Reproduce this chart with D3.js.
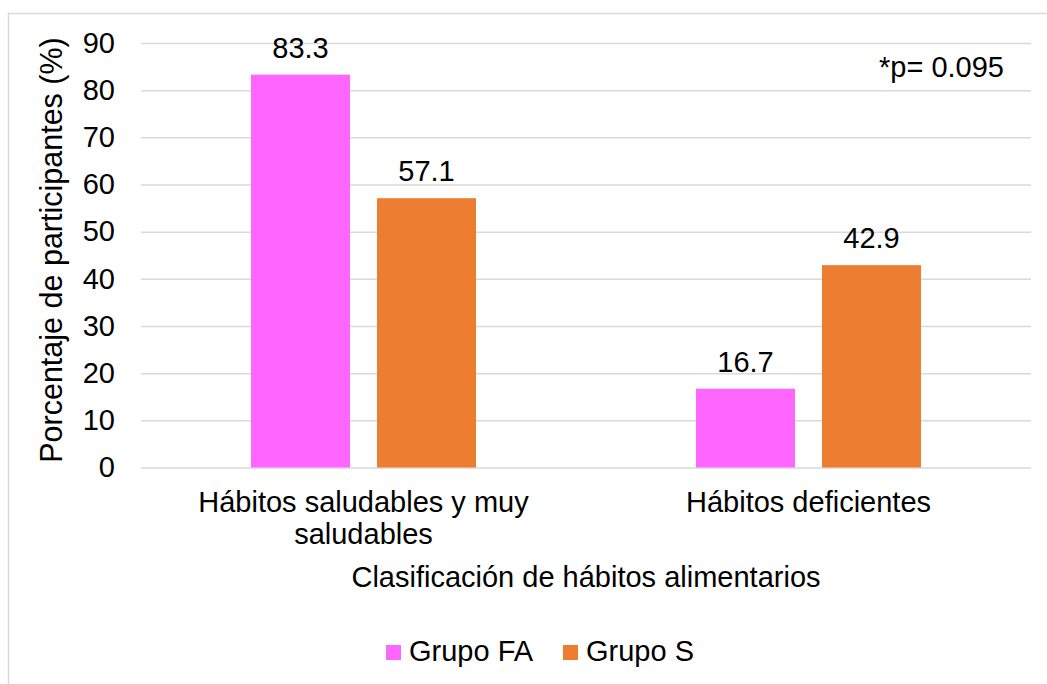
<!DOCTYPE html>
<html>
<head>
<meta charset="utf-8">
<script src="https://cdn.jsdelivr.net/npm/d3@7"></script>
<style>
  html, body { margin: 0; padding: 0; background: #fff; }
  svg { display: block; font-family: "Liberation Sans", Arial, sans-serif; }
</style>
</head>
<body>
<svg id="chart" width="1047" height="684"></svg>
<script>
// Categories, series and values
const categories = ["Hábitos saludables y muy saludables", "Hábitos deficientes"];
const categoryLines = [["Hábitos saludables y muy", "saludables"], ["Hábitos deficientes"]];
const seriesNames = ["Grupo FA", "Grupo S"];
const grupoFA = [83.3, 16.7];
const grupoS = [57.1, 42.9];
const yTicks = [0, 10, 20, 30, 40, 50, 60, 70, 80, 90];
const colors = ["#ff66ff", "#ed7d31"];

const svg = d3.select("#chart");
const fontSize = 29;

// Outer chart frame
svg.append("rect")
  .attr("x", 8.5).attr("y", 13.5)
  .attr("width", 1100).attr("height", 1000)
  .attr("fill", "#fff")
  .attr("stroke", "#d9d9d9").attr("stroke-width", 1.5);

const plot = { left: 141, right: 1031, top: 43, bottom: 467.5 };

const y = d3.scaleLinear().domain([0, 90]).range([plot.bottom, plot.top]);
const x0 = d3.scaleBand().domain(categories).range([plot.left, plot.right]).paddingInner(0).paddingOuter(0);
const bw = x0.bandwidth();
const x1 = d3.scaleBand().domain(seriesNames)
  .range([bw * 0.2472, bw * 0.7528]).paddingInner(0.214).paddingOuter(0);

// Y axis with gridlines
const yAxis = d3.axisLeft(y).tickValues(yTicks).tickSize(-(plot.right - plot.left)).tickPadding(26).tickFormat(d3.format("d"));
const gy = svg.append("g").attr("transform", `translate(${plot.left},0)`).call(yAxis);
gy.select(".domain").remove();
gy.selectAll(".tick line").attr("stroke", "#d9d9d9").attr("stroke-width", 1.5);
gy.selectAll(".tick text")
  .attr("font-size", fontSize).attr("fill", "#000")
  .attr("font-family", "'Liberation Sans', Arial, sans-serif");

// Bars
const rows = categories.map((c, i) => ({ cat: c, vals: [grupoFA[i], grupoS[i]] }));
const groups = svg.append("g").selectAll("g").data(rows).join("g")
  .attr("transform", d => `translate(${x0(d.cat)},0)`);

groups.selectAll("rect")
  .data(d => d.vals.map((v, j) => ({ s: seriesNames[j], v, j })))
  .join("rect")
  .attr("x", d => x1(d.s))
  .attr("y", d => y(d.v))
  .attr("width", x1.bandwidth())
  .attr("height", d => y(0) - y(d.v))
  .attr("fill", d => colors[d.j]);

// Value labels
groups.selectAll("text.val")
  .data(d => d.vals.map((v, j) => ({ s: seriesNames[j], v, j })))
  .join("text")
  .attr("class", "val")
  .attr("x", d => x1(d.s) + x1.bandwidth() / 2)
  .attr("y", d => y(d.v) - 17)
  .attr("text-anchor", "middle")
  .attr("font-size", fontSize)
  .attr("fill", "#000")
  .text(d => d3.format(".1f")(d.v));

// Category labels
categories.forEach((c, i) => {
  const t = svg.append("text")
    .attr("x", x0(c) + bw / 2)
    .attr("y", 512)
    .attr("text-anchor", "middle")
    .attr("font-size", fontSize)
    .attr("fill", "#000");
  categoryLines[i].forEach((line, k) => {
    t.append("tspan").attr("x", x0(c) + bw / 2).attr("dy", k === 0 ? 0 : 32).text(line);
  });
});

// Axis titles
svg.append("text")
  .attr("x", (plot.left + plot.right) / 2)
  .attr("y", 587)
  .attr("text-anchor", "middle")
  .attr("font-size", fontSize)
  .attr("fill", "#000")
  .text("Clasificación de hábitos alimentarios");

svg.append("text")
  .attr("transform", "translate(62,250) rotate(-90)")
  .attr("text-anchor", "middle")
  .attr("font-size", 30.5)
  .attr("fill", "#000")
  .text("Porcentaje de participantes (%)");

// Significance note
svg.append("text")
  .attr("x", 1004)
  .attr("y", 77)
  .attr("text-anchor", "end")
  .attr("font-size", fontSize)
  .attr("fill", "#000")
  .text("*p= 0.095");

// Legend
const legendX = [386, 563];
const legend = svg.append("g").selectAll("g").data(seriesNames).join("g")
  .attr("transform", (d, i) => `translate(${legendX[i]},645)`);
legend.append("rect").attr("width", 15).attr("height", 15).attr("fill", (d, i) => colors[i]);
legend.append("text")
  .attr("x", 23).attr("y", 16)
  .attr("font-size", fontSize).attr("fill", "#000")
  .text(d => d);
</script>
</body>
</html>
